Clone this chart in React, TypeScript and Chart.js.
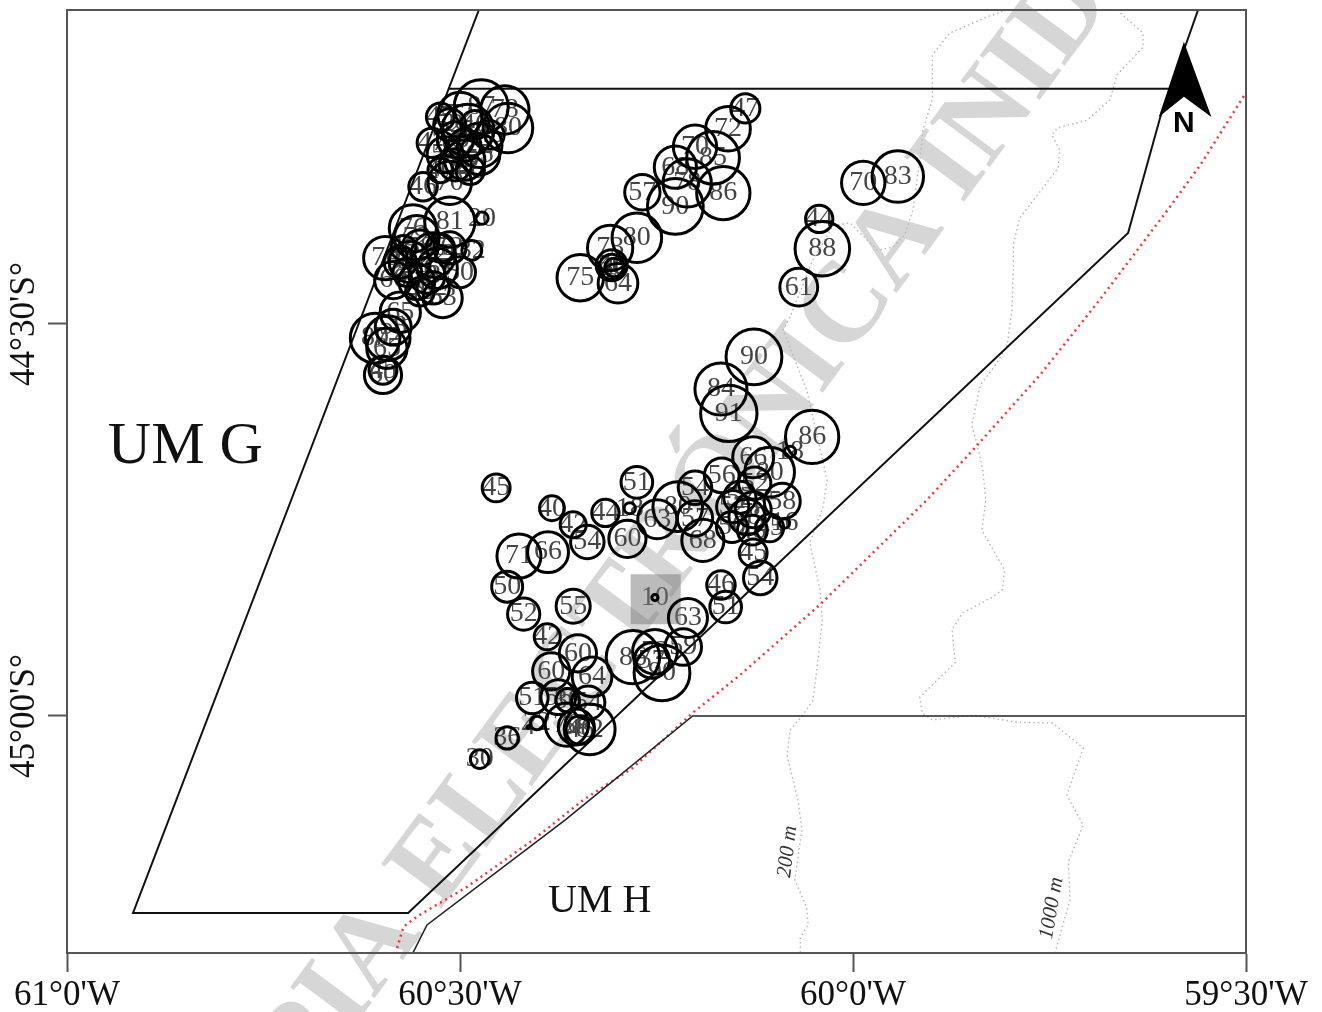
import React, { useEffect, useRef } from "react";
import { Chart, registerables } from "chart.js";

Chart.register(...registerables);

const SERIF = '"Liberation Serif", "Times New Roman", serif';

const stationLon = [
  -60.137, -60.159, -60.201, -60.178, -60.226, -60.268, -60.226, -60.211, -60.165, -60.275, -60.309, -60.347, -60.299, -60.307, -60.307, -60.304, -59.987, -59.943, -60.043, -60.039, -60.069,
  -60.126, -60.168, -60.158, -60.052, -60.127, -60.106, -60.08, -60.09, -60.167, -60.275, -60.315, -60.284, -60.249, -60.223, -60.201, -60.201, -60.191, -60.287, -60.154, -60.125, -60.144, -60.127, -60.106, -60.128, -60.135, -60.153, -60.087, -60.127, -60.118, -60.168, -60.162, -60.21, -60.252,
  -60.454, -60.383, -60.356, -60.338, -60.425, -60.388, -60.44, -60.419, -60.356, -60.389, -60.35, -60.384, -60.332, -60.408, -60.375, -60.363, -60.28, -60.252, -60.256, -60.243, -60.216, -60.337, -60.364, -60.347, -60.335, -60.352, -60.402, -60.413, -60.44, -60.475,
  -60.473, -60.443, -60.439, -60.525, -60.536, -60.547, -60.513, -60.49, -60.5, -60.475, -60.494, -60.506, -60.519, -60.481, -60.462, -60.475, -60.494, -60.513, -60.487, -60.525, -60.506,
  -60.513, -60.472, -60.56, -60.595, -60.485, -60.5, -60.522, -60.585, -60.555, -60.534, -60.564, -60.542, -60.576, -60.529, -60.555, -60.534, -60.551, -60.567, -60.513, -60.551, -60.525, -60.572, -60.576, -60.585, -60.608, -60.592, -60.593, -60.598, -60.598,
];
const stationLat = [
  -44.225, -44.251, -44.274, -44.288, -44.3, -44.332, -44.35, -44.32, -44.333, -44.39, -44.403, -44.441, -44.448, -44.425, -44.427, -44.428, -44.32, -44.312, -44.366, -44.404, -44.453,
  -44.542, -44.583, -44.614, -44.644, -44.67, -44.689, -44.663, -44.726, -44.693, -44.702, -44.741, -44.735, -44.749, -44.733, -44.709, -44.748, -44.776, -44.774, -44.759, -44.703, -44.721, -44.737, -44.76, -44.763, -44.746, -44.733, -44.754, -44.792, -44.824, -44.833, -44.861, -44.875, -44.849,
  -44.709, -44.735, -44.756, -44.778, -44.796, -44.791, -44.835, -44.87, -44.86, -44.899, -44.92, -44.943, -44.95, -44.977, -44.976, -44.98, -44.925, -44.918, -44.929, -44.945, -44.912, -44.983, -45.011, -45.018, -45.017, -45.014, -45.009, -45.014, -45.028, -45.055,
  -44.223, -44.227, -44.25, -44.236, -44.269, -44.325, -44.32, -44.253, -44.233, -44.272, -44.291, -44.265, -44.284, -44.246, -44.259, -44.284, -44.272, -44.246, -44.304, -44.304, -44.297,
  -44.37, -44.365, -44.378, -44.416, -44.406, -44.434, -44.467, -44.444, -44.39, -44.412, -44.421, -44.438, -44.421, -44.429, -44.446, -44.454, -44.459, -44.434, -44.403, -44.403, -44.403, -44.403, -44.485, -44.504, -44.518, -44.518, -44.531, -44.565, -44.559,
];
const stationValue = [
  47, 72, 70, 85, 68, 57, 90, 78, 86, 80, 73, 75, 64, 50, 40, 30, 70, 83, 44, 88, 61,
  90, 84, 91, 86, 66, 80, 18, 58, 56, 51, 44, 18, 63, 80, 54, 57, 68, 60, 50, 52, 52, 58, 45, 48, 58, 52, 16, 45, 54, 46, 51, 63, 10,
  45, 40, 42, 54, 71, 66, 50, 52, 55, 42, 60, 60, 64, 51, 56, 38, 86, 72, 57, 90, 59, 54, 70, 46, 82, 58, 22, 4, 36, 30,
  87, 78, 80, 45, 47, 46, 70, 84, 72, 72, 65, 58, 58, 46, 46, 65, 52, 52, 46, 40, 52,
  81, 20, 76, 70, 32, 50, 63, 60, 72, 72, 66, 58, 52, 65, 58, 52, 46, 46, 52, 58, 46, 40, 65, 58, 80, 72, 65, 60, 45,
];

const squareLon = [-60.251];
const squareLat = [-44.851];

const ugLon = [-60.476, -60.916, -60.566, -59.65, -59.609, -59.561];
const ugLat = [-44.0995, -45.2512, -45.2512, -44.384, -44.236, -44.0995];
const topLon = [-60.514, -59.594];
const topLat = [-44.2, -44.2];
const uhLon = [-60.56, -60.542, -60.366, -60.204, -59.5];
const uhLat = [-45.3023, -45.2665, -45.1326, -45.0, -45.0];
const redLon = [-60.58, -60.572, -60.555, -60.491, -60.407, -60.343, -60.28, -60.204, -60.144, -60.042, -59.981, -59.906, -59.845, -59.762, -59.686, -59.6, -59.558, -59.5];
const redLat = [-45.296, -45.269, -45.256, -45.218, -45.158, -45.107, -45.066, -44.996, -44.948, -44.858, -44.798, -44.7245, -44.658, -44.565, -44.469, -44.355, -44.297, -44.205];
const iso200Lon = [-59.804, -59.829, -59.877, -59.899, -59.899, -59.911, -59.915, -59.924, -59.934, -59.949, -59.969, -60.004, -60.025, -60.051, -60.08, -60.089, -60.059, -60.033, -60.038, -60.055, -60.042, -60.039, -60.046, -60.051, -60.064, -60.08, -60.084, -60.07, -60.065, -60.074, -60.059, -60.057, -60.067, -60.067];
const iso200Lat = [-44.0995, -44.108, -44.129, -44.157, -44.214, -44.252, -44.291, -44.355, -44.386, -44.402, -44.406, -44.371, -44.374, -44.418, -44.491, -44.508, -44.584, -44.699, -44.733, -44.779, -44.839, -44.878, -44.941, -44.98, -44.999, -45.018, -45.05, -45.107, -45.145, -45.209, -45.244, -45.266, -45.283, -45.302];
const iso1000Lon = [-59.664, -59.631, -59.631, -59.664, -59.673, -59.702, -59.74, -59.747, -59.737, -59.739, -59.788, -59.796, -59.796, -59.798, -59.804, -59.817, -59.838, -59.849, -59.842, -59.835, -59.831, -59.836, -59.816, -59.807, -59.81, -59.822, -59.861, -59.874, -59.87, -59.915, -59.912, -59.899, -59.847, -59.791, -59.746, -59.707, -59.728, -59.707, -59.726, -59.724, -59.743];
const iso1000Lat = [-44.0995, -44.129, -44.147, -44.182, -44.214, -44.24, -44.25, -44.259, -44.278, -44.301, -44.365, -44.399, -44.431, -44.485, -44.527, -44.55, -44.578, -44.629, -44.654, -44.686, -44.724, -44.763, -44.798, -44.814, -44.839, -44.848, -44.869, -44.89, -44.932, -44.976, -44.996, -45.005, -44.999, -45.008, -45.009, -45.041, -45.101, -45.139, -45.186, -45.235, -45.302];

const lonTicks = [-61, -60.5, -60, -59.5];
const lonLabels = ["61°0'W", "60°30'W", "60°0'W", "59°30'W"];
const latTicks = [-45, -44.5];
const latLabels = ["45°00'S°", "44°30'S°"];

const arrowLon = [-59.579, -59.611, -59.579, -59.544];
const arrowLat = [-44.14, -44.236, -44.21, -44.236];

const zip = (xs: number[], ys: number[]) => xs.map((x, i) => ({ x, y: ys[i] }));

const lineDs = (xs: number[], ys: number[], color: string, width: number, dash: number[] = []) => ({
  type: "line" as const,
  data: zip(xs, ys),
  borderColor: color,
  borderWidth: width,
  borderDash: dash,
  pointRadius: 0,
  tension: 0,
  fill: false,
  order: 5,
});

const noPadding = (s: any) => {
  s.paddingTop = 0;
  s.paddingBottom = 0;
  s.paddingLeft = 0;
  s.paddingRight = 0;
};

const mapPlugin = {
  id: "mapDecor",
  beforeDraw(chart: any) {
    const c = chart.ctx;
    c.save();
    c.translate(440, 910);
    c.rotate((-53.5 * Math.PI) / 180);
    c.fillStyle = "#d6d6d6";
    c.font = `bold 114px ${SERIF}`;
    c.textBaseline = "alphabetic";
    c.textAlign = "left";
    c.fillText("ELECTRÓNICA INIDEP", 0, 0);
    c.textAlign = "right";
    c.fillText("COPIA ", 0, 0);
    c.restore();
  },
  beforeDatasetsDraw(chart: any) {
    // station value labels, centred on the bubbles and under their outlines
    const c = chart.ctx;
    const meta = chart.getDatasetMeta(0);
    c.save();
    c.fillStyle = "#444";
    c.font = `28px ${SERIF}`;
    c.textAlign = "center";
    c.textBaseline = "middle";
    meta.data.forEach((el: any, i: number) => {
      c.fillText(String(stationValue[i]), el.x, el.y);
    });
    c.restore();
  },
  afterDatasetsDraw(chart: any) {
    const c = chart.ctx;
    const sx = chart.scales.x;
    const sy = chart.scales.y;
    const { left, top, width, height } = chart.chartArea;
    c.save();
    c.strokeStyle = "#555";
    c.lineWidth = 2;
    c.strokeRect(left, top, width, height);

    // north arrow
    c.fillStyle = "#000";
    c.beginPath();
    arrowLon.forEach((lon, i) => {
      const px = sx.getPixelForValue(lon);
      const py = sy.getPixelForValue(arrowLat[i]);
      if (i === 0) c.moveTo(px, py);
      else c.lineTo(px, py);
    });
    c.closePath();
    c.fill();
    c.textAlign = "center";
    c.textBaseline = "middle";
    c.font = 'bold 30px "Liberation Sans", sans-serif';
    c.fillText("N", sx.getPixelForValue(-59.579), sy.getPixelForValue(-44.245));

    // unit names
    c.fillStyle = "#111";
    c.textAlign = "left";
    c.textBaseline = "alphabetic";
    c.font = `60px ${SERIF}`;
    c.fillText("UM G", sx.getPixelForValue(-60.948), sy.getPixelForValue(-44.677));
    c.font = `40px ${SERIF}`;
    c.fillText("UM H", sx.getPixelForValue(-60.388), sy.getPixelForValue(-45.25));

    // isobath names
    c.fillStyle = "#333";
    c.textAlign = "center";
    c.textBaseline = "middle";
    c.font = `italic 21px ${SERIF}`;
    const rotated = (t: string, lon: number, lat: number, deg: number) => {
      c.save();
      c.translate(sx.getPixelForValue(lon), sy.getPixelForValue(lat));
      c.rotate((deg * Math.PI) / 180);
      c.fillText(t, 0, 0);
      c.restore();
    };
    rotated("200 m", -60.083, -45.173, -83);
    rotated("1000 m", -59.747, -45.245, -80);
    c.restore();
  },
};

export default function App() {
  const ref = useRef<HTMLCanvasElement>(null);
  useEffect(() => {
    const chart = new Chart(ref.current as HTMLCanvasElement, {
      type: "bubble",
      data: {
        datasets: [
          {
            type: "bubble",
            data: stationLon.map((x, i) => ({ x, y: stationLat[i], r: stationValue[i] * 0.31 })),
            borderColor: "#000",
            borderWidth: 3,
            backgroundColor: "rgba(0,0,0,0)",
            order: 1,
          },
          {
            type: "scatter",
            data: zip(squareLon, squareLat),
            pointStyle: "rect",
            pointRadius: 35.4,
            backgroundColor: "rgba(120,120,120,0.5)",
            borderWidth: 0,
            order: 6,
          },
          lineDs(ugLon, ugLat, "#111", 2),
          lineDs(topLon, topLat, "#111", 2),
          lineDs(uhLon, uhLat, "#222", 1.6),
          lineDs(redLon, redLat, "#f53535", 2.5, [2, 4]),
          lineDs(iso200Lon, iso200Lat, "#b4b4b4", 1.4, [1.5, 3]),
          lineDs(iso1000Lon, iso1000Lat, "#b4b4b4", 1.4, [1.5, 3]),
        ] as any,
      },
      options: {
        responsive: false,
        animation: false,
        events: [],
        layout: { autoPadding: false, padding: { top: 10, right: 76, left: 0, bottom: 0 } },
        plugins: { legend: { display: false }, tooltip: { enabled: false } },
        scales: {
          x: {
            type: "linear",
            min: -61,
            max: -59.5,
            afterBuildTicks: (s: any) => {
              s.ticks = lonTicks.map((value) => ({ value }));
            },
            afterFit: (s: any) => {
              s.height = 59;
              noPadding(s);
            },
            border: { color: "#555", width: 2 },
            grid: { drawOnChartArea: false, drawTicks: true, tickLength: 19, tickColor: "#555", tickWidth: 2 },
            ticks: {
              autoSkip: false,
              maxRotation: 0,
              padding: 3,
              color: "#111",
              font: { family: SERIF, size: 35 },
              callback: (v: any) => lonLabels[lonTicks.indexOf(v)],
            },
          },
          y: {
            type: "linear",
            min: -45.3023,
            max: -44.0995,
            afterBuildTicks: (s: any) => {
              s.ticks = latTicks.map((value) => ({ value }));
            },
            afterFit: (s: any) => {
              s.width = 67;
              noPadding(s);
            },
            border: { color: "#555", width: 2 },
            grid: { drawOnChartArea: false, drawTicks: true, tickLength: 19, tickColor: "#555", tickWidth: 2 },
            ticks: {
              autoSkip: false,
              minRotation: 90,
              maxRotation: 90,
              crossAlign: "center",
              padding: -39,
              color: "#111",
              font: { family: SERIF, size: 35 },
              callback: (v: any) => latLabels[latTicks.indexOf(v)],
            },
          },
        },
      } as any,
      plugins: [mapPlugin],
    });
    return () => chart.destroy();
  }, []);
  return (
    <canvas
      ref={ref}
      width={1322}
      height={1012}
      style={{ position: "absolute", left: 0, top: 0, display: "block" }}
    />
  );
}
